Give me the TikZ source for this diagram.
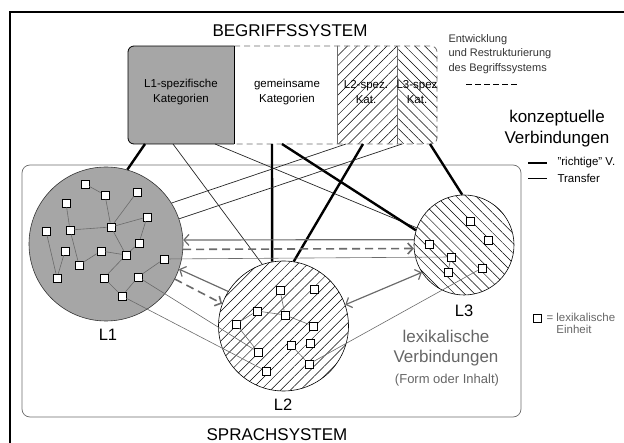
\documentclass[tikz,border=0pt]{standalone}
\usepackage{fontspec}
\setmainfont{Liberation Sans}
\usetikzlibrary{arrows.meta,patterns.meta}
\definecolor{fillgray}{gray}{0.65}
\definecolor{linegray}{gray}{0.42}
\definecolor{textgray}{gray}{0.40}

\tikzset{
  title/.style={font=\fontsize{17}{20}\selectfont},
  cat/.style={align=center,font=\fontsize{11.5}{15}\selectfont},
  lexbox/.style={draw,fill=white,minimum size=8,inner sep=0pt,line width=0.6},
  lexlink/.style={draw=linegray,line width=0.6},
  langcircle/.style={circle,draw,line width=0.6,inner sep=0pt},
  richtig/.style={line width=2.4},
  transfer/.style={line width=0.7,black!85},
  lexarrow/.style={draw=linegray,line width=1.2},
  lexdash/.style={lexarrow,line width=1.6,dash pattern=on 8pt off 5pt},
  hatchR/.style={pattern={Lines[angle=45,distance=7pt,line width=0.5pt]}},
  hatchL/.style={pattern={Lines[angle=-45,distance=7pt,line width=0.5pt]}},
}

\begin{document}
\begin{tikzpicture}[x=1pt,y=-1pt,>={Straight Barb[length=5pt,width=11pt]}]
\useasboundingbox (0,0) rectangle (624,443);
\draw[line width=1.6] (10,443) -- (10,12) -- (624,12);

% Begriffssystem
\node[title] (begriff) at (290,31) {BEGRIFFSSYSTEM};
\begin{scope}
  \clip[rounded corners=6] (128,46) rectangle (437,144);
  \fill[fillgray] (128,46) rectangle (234,144);
  \fill[hatchR] (337,46) rectangle (397,144);
  \fill[hatchL] (397,46) rectangle (437,144);
\end{scope}
\draw[line width=0.8,rounded corners=6] (234,46) -- (128,46) -- (128,144) -- (234,144);
\draw[line width=0.8,linegray,dashed,dash pattern=on 6pt off 4pt,rounded corners=6] (234,46) -- (437,46) -- (437,144) -- (234,144);
\draw[line width=0.8] (234,46) -- (234,144);
\draw[linegray,line width=0.7] (337,46) -- (337,144) (397,46) -- (397,144);
\node[cat] (kat1) at (181,92) {L1-spezifische\\Kategorien};
\node[cat] (kat2) at (287,92) {gemeinsame\\Kategorien};
\node[cat] (kat3) at (366,92) {L2-spez.\\Kat.};
\node[cat] (kat4) at (417,92) {L3-spez\\Kat.};
\foreach \n/\x in {1/145,2/173,3/215,4/272,5/282,6/346,7/363,8/402,9/430}
  \coordinate (k\n) at (\x,144);

% legend
\node[anchor=north west,align=left,text=black!80,font=\fontsize{11}{14.5}\selectfont] (entw) at (445,31)
  {Entwicklung\\und Restrukturierung\\des Begriffssystems};
\draw[line width=0.8,dash pattern=on 6pt off 3pt] (466,84) -- (517,84);
\node[align=center,font=\fontsize{17}{21}\selectfont] (konz) at (557,129) {konzeptuelle\\Verbindungen};
\node[anchor=west,font=\fontsize{11.5}{13}\selectfont] (lgr) at (554,163) {"richtige" V.};
\node[anchor=west,font=\fontsize{11.5}{13}\selectfont] (lgt) at (554,178) {Transfer};
\draw[richtig] ([xshift=-26]lgr.west) -- ([xshift=-7]lgr.west);
\draw[line width=0.8] ([xshift=-26]lgt.west) -- ([xshift=-7]lgt.west);

% Sprachsystem
\draw[linegray,line width=0.7,rounded corners=8] (22,165) rectangle (521,417);
\node[title] (sprach) at (277,435) {SPRACHSYSTEM};

\node[langcircle,fill=fillgray,draw=black!80,minimum size=154] (L1) at (106,244) {};
\node[langcircle,preaction={fill=white},hatchR,minimum size=130] (L2) at (283.5,326) {};
\node[langcircle,preaction={fill=white},hatchL,minimum size=100] (L3) at (464,245) {};
\node[title,font=\fontsize{16.5}{20}\selectfont] (L1lab) at (108,335) {L1};
\node[title,font=\fontsize{16.5}{20}\selectfont] (L2lab) at (283,405) {L2};
\node[title,font=\fontsize{16.5}{20}\selectfont] (L3lab) at (464,311) {L3};
\node[align=center,text=textgray,font=\fontsize{17}{20}\selectfont] (lexv) at (446,348) {lexikalische\\Verbindungen};
\node[text=textgray,font=\fontsize{13}{15}\selectfont] (forminh) at (447,380) {(Form oder Inhalt)};

% konzeptuelle Verbindungen
\draw[richtig] (k1) -- (L1.74);
\draw[transfer] (k2) -- (L2.109);
\draw[transfer] (k3) -- (L3.160);
\draw[richtig] (k4) -- (L2.100);
\draw[richtig] (k5) -- (L3.163);
\draw[transfer] (k6) -- (L1.32);
\draw[richtig] (k7) -- (L2.81);
\draw[transfer] (k8) -- (L1.19);
\draw[richtig] (k9) -- (L3.92);

% lexikalische Einheiten
\foreach \n/\x/\y in {a/85/184,b/105/195,c/137/192,d/66/203,e/147/217,f/46/231,
    g/70/230,h/111/227,i/139/243,j/65/251,k/101/251,l/126/255,m/164/259,
    n/79/265,o/57/278,p/104/278,q/138/277,r/122/296}
  \node[lexbox] (a\n) at (\x,\y) {};
\foreach \n/\x/\y in {a/280/290,b/314/289,c/257/311,d/285/315,e/236/324,f/313/326,
    g/291/345,h/310/343,i/258/352,j/309/364,k/266/371}
  \node[lexbox] (b\n) at (\x,\y) {};
\foreach \n/\x/\y in {a/470/221,b/488/240,c/429/244,d/451/257,e/448/272,f/482/268}
  \node[lexbox] (c\n) at (\x,\y) {};
\foreach \s/\t in {a/b,b/h,c/h,e/h,d/g,g/h,f/o,j/o,g/n,n/k,h/l,k/l,e/i,i/l,l/p,p/r,r/q,q/m}
  \draw[lexlink] (a\s) -- (a\t);
\foreach \s/\t in {a/d,c/d,d/f,c/e,e/i,g/j}
  \draw[lexlink] (b\s) -- (b\t);
\draw[lexlink] (cd) -- (ce);
\draw[lexlink] (am) -- (cd);
\draw[lexlink] (aq) -- (bi);
\draw[lexlink] (ar) -- (bk);
\draw[lexlink] (bj) -- (cf);

% Pfeile zwischen den Sprachen
\draw[lexarrow,<-] (L1.3) -- (L3.174);
\draw[lexdash,->] (L1.-4) -- (L3.184.5);
\draw[lexarrow,<-] (L1.-19) -- (L2.148);
\draw[lexdash,->] (L1.-27) -- (L2.160);
\draw[lexarrow,<->] (L2.19) -- (L3.213);

\node[lexbox] (lgbox) at (537,318) {};
\node[anchor=west,align=left,text=textgray,font=\fontsize{11.5}{12}\selectfont] (lgtext) at (543,323)
  {= lexikalische\\\hphantom{= }Einheit};
\end{tikzpicture}
\end{document}
